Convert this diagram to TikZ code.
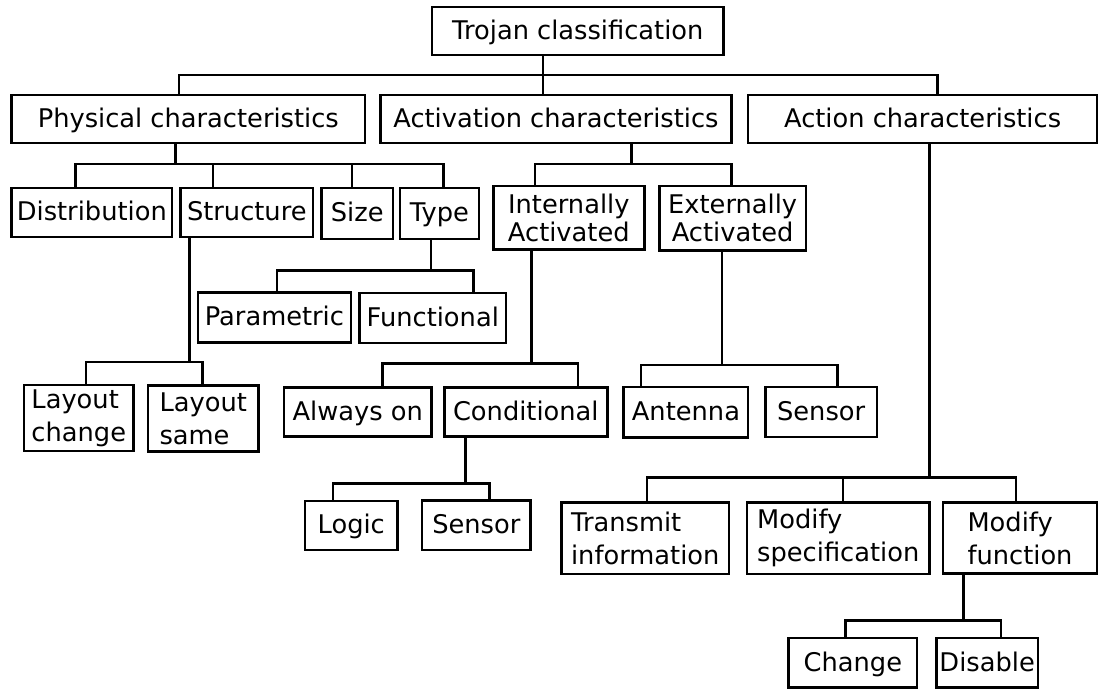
\documentclass[tikz,border=0pt]{standalone}
\usepackage{fontspec}
\setmainfont{DejaVu Sans}
% box given by its left, top, right and bottom edges (1 unit = 1pt, y grows downward)
\newcommand\tbox[7][]{%
  \node[box,#1,minimum width={#5-#3},minimum height={#6-#4}] (#2)
    at ({(#3+#5)/2},{(#4+#6)/2}) {#7};}
% tree branch: parent, stem x, bar y, list of child/tick-x
\newcommand\branch[4]{%
  \coordinate (#1-j) at (#2,#3);
  \draw[link] (#1.south -| #1-j) -- (#1-j);
  \foreach \ch/\tx in {#4}{%
    \coordinate (\ch-k) at (\tx,#3);
    \draw[link] (#1-j) -- (\ch-k) -- (\ch.north -| \ch-k);
  }}
\begin{document}
\begin{tikzpicture}[x=1pt,y=-1pt,
  box/.style={draw,line width=2.5pt,inner sep=0pt,
    font=\fontsize{25.7}{28}\selectfont,text height=19.5pt,text depth=3pt},
  link/.style={line width=2.5pt,line join=miter},
  ctr/.style={align=center,text height={},text depth={}},
  two/.style={align=left,text height={},text depth={},
    font=\fontsize{25.7}{33}\selectfont}]
\useasboundingbox (0,0) rectangle (1099,689);

% level 0 and 1
\tbox{root}{432}{7}{723.6}{55}{Trojan classification}
\tbox{phys}{11.6}{95}{365}{143}{Physical characteristics}
\tbox{act}{380.6}{95}{731.3}{143}{Activation characteristics}
\tbox{action}{748.2}{95}{1097}{143}{Action characteristics}

% physical characteristics
\tbox{dist}{11.6}{188}{172}{237}{Distribution}
\tbox{struct}{180.6}{188}{313}{237}{Structure}
\tbox{size}{321.6}{188}{392.8}{239}{Size}
\tbox{type}{400}{188}{478.8}{239}{Type}
\tbox{param}{198}{292.7}{350.8}{342.3}{Parametric}
\tbox{func}{359.5}{293}{506}{343}{Functional}
\tbox[two]{lchange}{23.9}{385}{133.6}{451}{Layout\\change}
\tbox[two]{lsame}{148}{385.7}{258.5}{451.7}{Layout\\same}

% activation characteristics
\tbox[ctr]{intern}{493.3}{186}{644.3}{249.5}{Internally\\Activated}
\tbox[ctr]{extern}{659.3}{186}{806}{250.5}{Externally\\Activated}
\tbox{always}{284}{387.7}{431.4}{436.7}{Always on}
\tbox{cond}{444.3}{387.3}{607.3}{436.5}{Conditional}
\tbox{antenna}{623.7}{387}{748.2}{437.3}{Antenna}
\tbox{sensA}{765.4}{387}{876.9}{437}{Sensor}
\tbox{logic}{305.2}{501}{397.3}{550}{Logic}
\tbox{sensB}{422.2}{500.7}{530.5}{550}{Sensor}

% action characteristics
\tbox[two]{transmit}{561.3}{502.7}{729.2}{574}{Transmit\\information}
\tbox[two]{modspec}{747}{502.7}{929.5}{574}{Modify\\specification}
\tbox[two]{modfunc}{943}{502.7}{1097}{573.3}{Modify\\function}
\tbox{change}{788.7}{638}{917}{687.5}{Change}
\tbox{disable}{936.5}{638}{1037.8}{687.5}{Disable}

% connectors
\branch{root}{543}{75}{phys/179, act/543, action/937.6}
\branch{phys}{175.4}{164}{dist/75.4, struct/213, size/352, type/443.7}
\branch{act}{631.7}{164}{intern/535, extern/731.7}
\branch{struct}{189.4}{362}{lchange/86, lsame/202.4}
\branch{type}{431}{270.7}{param/277, func/473.5}
\branch{intern}{531.4}{363.5}{always/382.3, cond/578}
\branch{extern}{721.9}{365}{antenna/641.2, sensA/837.6}
\branch{cond}{465.6}{483.5}{logic/332.8, sensB/489.5}
\branch{action}{929.5}{477.5}{transmit/647, modspec/842.9, modfunc/1016}
\branch{modfunc}{963.6}{620.7}{change/845.6, disable/1001}
\end{tikzpicture}
\end{document}
